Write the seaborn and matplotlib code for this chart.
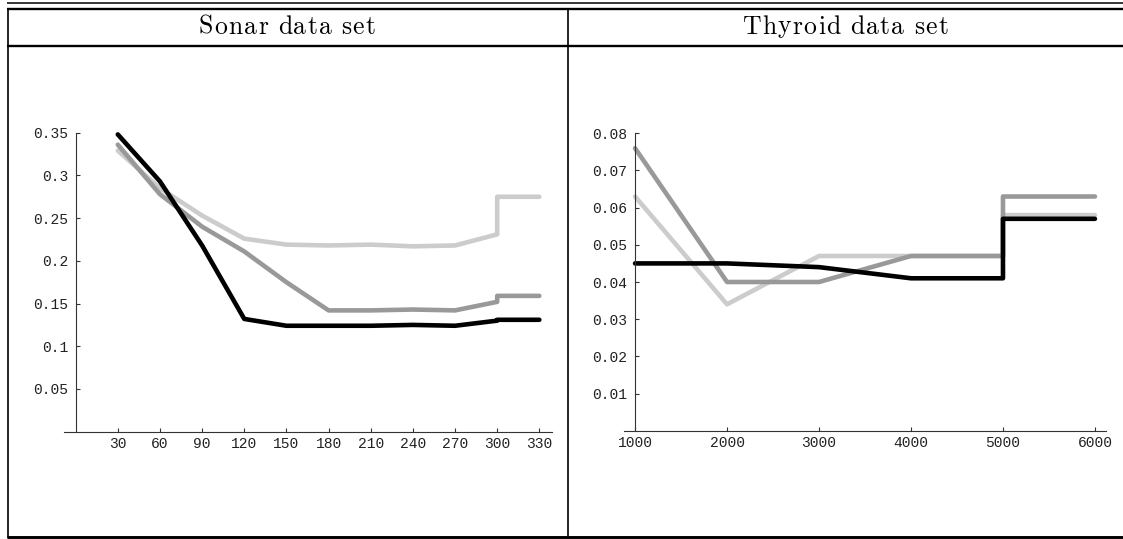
import matplotlib
matplotlib.use("Agg")
import matplotlib.pyplot as plt
from matplotlib.lines import Line2D
import numpy as np
import pandas as pd
import seaborn as sns

# ---- Sonar data set: error vs. number of training iterations ----
sonar_x = [30, 60, 90, 120, 150, 180, 210, 240, 270, 300, 300, 330]
sonar_light = [0.329, 0.285, 0.253, 0.226, 0.219, 0.218, 0.219, 0.217, 0.218, 0.231, 0.275, 0.275]
sonar_mid = [0.336, 0.278, 0.240, 0.211, 0.175, 0.142, 0.142, 0.143, 0.142, 0.152, 0.159, 0.159]
sonar_dark = [0.348, 0.293, 0.218, 0.132, 0.124, 0.124, 0.124, 0.125, 0.124, 0.130, 0.131, 0.131]
sonar_xticks = [30, 60, 90, 120, 150, 180, 210, 240, 270, 300, 330]
sonar_yticks = [0.05, 0.1, 0.15, 0.2, 0.25, 0.3, 0.35]
sonar_ylabels = ["0.05", "0.1", "0.15", "0.2", "0.25", "0.3", "0.35"]

# ---- Thyroid data set ----
thy_x = [1000, 2000, 3000, 4000, 5000, 5000, 6000]
thy_light = [0.063, 0.034, 0.047, 0.047, 0.047, 0.058, 0.058]
thy_mid = [0.076, 0.040, 0.040, 0.047, 0.047, 0.063, 0.063]
thy_dark = [0.045, 0.045, 0.044, 0.041, 0.041, 0.057, 0.057]
thy_xticks = [1000, 2000, 3000, 4000, 5000, 6000]
thy_yticks = [0.01, 0.02, 0.03, 0.04, 0.05, 0.06, 0.07, 0.08]
thy_ylabels = ["0.01", "0.02", "0.03", "0.04", "0.05", "0.06", "0.07", "0.08"]

titles = ["Sonar data set", "Thyroid data set"]
shades = {"light": "#cccccc", "mid": "#999999", "dark": "#000000"}

sns.set_style("white")

W, H = 1123, 539
fig = plt.figure(figsize=(W / 100, H / 100), dpi=100)
renderer = fig.canvas.get_renderer()


def px_axes(left, right, top, bottom):
    return fig.add_axes([left / W, 1 - bottom / H, (right - left) / W, (bottom - top) / H])


def draw_panel(ax, x, series, xlim, ylim, yaxis_x, xticks, yticks, ylabels):
    for name, vals in series:
        df = pd.DataFrame({"x": x, "y": vals})
        sns.lineplot(data=df, x="x", y="y", ax=ax, estimator=None, sort=False,
                     color=shades[name], linewidth=3.3, solid_capstyle="round",
                     solid_joinstyle="round", clip_on=False)
    ax.set_xlim(*xlim)
    ax.set_ylim(*ylim)
    ax.set_xlabel("")
    ax.set_ylabel("")
    for s in ("top", "right"):
        ax.spines[s].set_visible(False)
    ax.spines["left"].set_position(("data", yaxis_x))
    ax.spines["left"].set_bounds(0, yticks[-1])
    for s in ("left", "bottom"):
        ax.spines[s].set_color("#333333")
        ax.spines[s].set_linewidth(0.8)
    ax.set_xticks(xticks)
    ax.set_xticklabels([str(t) for t in xticks])
    ax.set_yticks(yticks)
    ax.set_yticklabels(ylabels)
    ax.tick_params(axis="both", direction="in", length=3, width=0.8, color="#333333",
                   labelcolor="#222222", labelsize=10.5, left=True, bottom=True)
    ax.tick_params(axis="x", pad=4)
    ax.tick_params(axis="y", pad=5.5)
    for lab in ax.get_xticklabels() + ax.get_yticklabels():
        lab.set_fontfamily("Liberation Mono")
    ax.patch.set_alpha(0)


ax1 = px_axes(63.7, 551.7, 132.7, 431.7)
draw_panel(ax1, sonar_x,
           [("light", sonar_light), ("mid", sonar_mid), ("dark", sonar_dark)],
           (-8.5, 338.8), (0, 0.35), 0, sonar_xticks, sonar_yticks, sonar_ylabels)

ax2 = px_axes(624, 1106, 133.3, 430.7)
draw_panel(ax2, thy_x,
           [("light", thy_light), ("mid", thy_mid), ("dark", thy_dark)],
           (880, 6120), (0, 0.08), 1000, thy_xticks, thy_yticks, thy_ylabels)

# ---- table frame around the two panels ----
def hline(y, x0, x1, lw):
    fig.add_artist(Line2D([x0 / W, x1 / W], [1 - y / H, 1 - y / H],
                          transform=fig.transFigure, color="black", linewidth=lw,
                          solid_capstyle="butt"))


def vline(x, y0, y1, lw):
    fig.add_artist(Line2D([x / W, x / W], [1 - y0 / H, 1 - y1 / H],
                          transform=fig.transFigure, color="black", linewidth=lw,
                          solid_capstyle="butt"))


hline(2.7, 7, W, 1.1)
hline(9.3, 7, W, 1.7)
hline(46, 7, W, 1.7)
hline(536.8, 7, W, 2.1)
vline(7.8, 8.5, 538, 1.2)
vline(568, 8.5, 538, 1.2)


# ---- column headings, set with a little letter spacing ----
TITLE_FONT = dict(fontfamily="cmr10", fontsize=18.5, color="black")


def ink_width(s):
    t = fig.text(0, 0, s, **TITLE_FONT)
    w = t.get_window_extent(renderer).width
    t.remove()
    return w


def spaced_title(s, xc, baseline, track):
    space = TITLE_FONT["fontsize"] * 100 / 72 * 0.333 + track
    glyphs = []
    x = 0.0
    for word in s.split(" "):
        for k, ch in enumerate(word):
            left = ink_width(word[:k + 1]) - ink_width(ch)
            glyphs.append((ch, x + left + k * track))
        x += ink_width(word) + (len(word) - 1) * track + space
    total = x - space
    x0 = xc - total / 2
    for ch, off in glyphs:
        fig.text((x0 + off) / W, 1 - baseline / H, ch, ha="left", va="baseline",
                 **TITLE_FONT)


spaced_title(titles[0], 287, 33.5, 1.3)
spaced_title(titles[1], 845, 33.5, 1.3)

fig.savefig("out.png", dpi=100)
